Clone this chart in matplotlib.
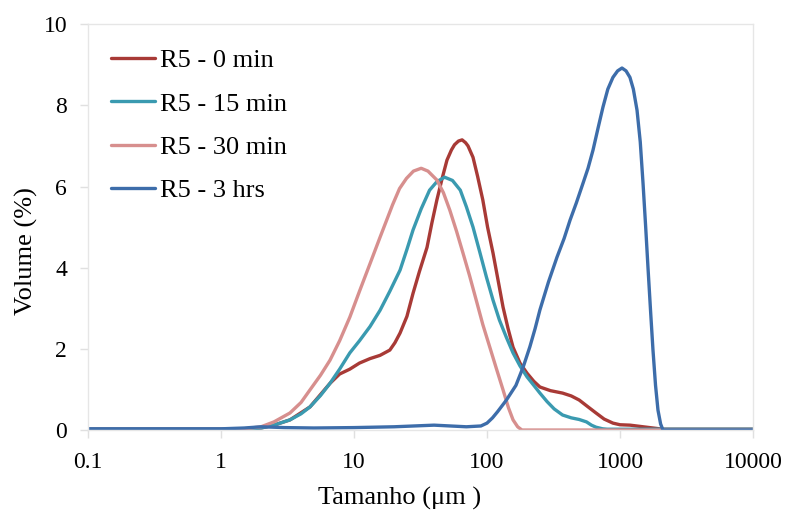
#!/usr/bin/env python3
"""Particle size distribution (volume %) for sample R5 at four times."""
import matplotlib

matplotlib.use("Agg")
import matplotlib.pyplot as plt

plt.rcParams["font.family"] = ["Liberation Serif", "DejaVu Serif"]

# sizes (um) and volume (%), one list pair per series
x_0min = [0.1, 1, 1.5, 2, 2.5, 3.3, 4.67, 6.6, 7.8, 9.3, 11, 13.2, 15.7, 18.6,
          20.3, 22.2, 25, 27.8, 31, 35.4, 38.5, 42, 46, 50, 54, 57, 61, 65, 69,
          72, 78.5, 85, 93, 101, 111, 121, 132, 144, 157, 177, 200, 225, 250,
          300, 370, 430, 493, 570, 660, 760, 885, 1000, 1190, 1580, 2100, 10000]
y_0min = [0.02, 0.02, 0.02, 0.05, 0.12, 0.25, 0.57, 1.15, 1.38, 1.5, 1.65, 1.76,
          1.84, 1.97, 2.15, 2.39, 2.8, 3.37, 3.9, 4.5, 5.1, 5.67, 6.2, 6.65,
          6.9, 7.03, 7.12, 7.15, 7.08, 7.0, 6.72, 6.25, 5.67, 5.0, 4.36, 3.7,
          3.03, 2.5, 2.04, 1.65, 1.4, 1.2, 1.06, 0.97, 0.91, 0.84, 0.74, 0.58,
          0.42, 0.27, 0.17, 0.13, 0.12, 0.07, 0.02, 0.02]

x_15min = [0.1, 1, 1.5, 2, 2.5, 3.3, 4, 4.67, 5.6, 6.6, 7.8, 9.3, 11, 13.2,
           15.7, 18.6, 22.2, 25, 27.8, 32, 37, 42, 48, 55, 63, 70, 78.5, 88,
           99, 111, 124, 140, 157, 177, 200, 225, 250, 283, 320, 370, 430, 493,
           560, 610, 660, 740, 800, 10000]
y_15min = [0.02, 0.02, 0.02, 0.05, 0.12, 0.25, 0.4, 0.57, 0.85, 1.15, 1.5, 1.9,
           2.2, 2.55, 2.95, 3.42, 3.94, 4.45, 4.93, 5.45, 5.91, 6.12, 6.23, 6.15,
           5.91, 5.5, 5.0, 4.4, 3.77, 3.2, 2.71, 2.28, 1.9, 1.58, 1.31, 1.1,
           0.91, 0.7, 0.52, 0.37, 0.3, 0.26, 0.2, 0.12, 0.07, 0.03, 0.02, 0.02]

x_30min = [0.1, 1.3, 1.6, 2, 2.5, 3.3, 4, 4.67, 5.6, 6.6, 7.8, 9.3, 11, 13.2,
           15.7, 17.5, 19.5, 22, 24.8, 28, 32, 36, 42, 47, 52.5, 59, 66, 74,
           83, 93, 105, 118, 132, 145, 157, 170, 183, 10000]
y_30min = [0.02, 0.02, 0.04, 0.08, 0.2, 0.42, 0.68, 0.99, 1.35, 1.72, 2.2, 2.78,
           3.42, 4.1, 4.75, 5.15, 5.55, 5.95, 6.2, 6.38, 6.45, 6.38, 6.16, 5.85,
           5.42, 4.9, 4.36, 3.8, 3.2, 2.6, 2.04, 1.5, 0.99, 0.55, 0.25, 0.08,
           0.0, 0.0]

x_3hrs = [0.1, 1, 1.5, 2, 3, 5, 10, 20, 40, 70, 90, 100, 110, 120, 130, 140,
          152, 165, 187, 210, 230, 250, 290, 336, 380, 421, 470, 527, 575, 627,
          685, 745, 810, 885, 960, 1035, 1110, 1188, 1260, 1343, 1420, 1490,
          1560, 1623, 1700, 1770, 1850, 1930, 2020, 2105, 10000]
y_3hrs = [0.03, 0.03, 0.05, 0.08, 0.06, 0.05, 0.06, 0.08, 0.12, 0.08, 0.1, 0.17,
          0.3, 0.45, 0.6, 0.74, 0.92, 1.1, 1.55, 2.05, 2.5, 2.96, 3.65, 4.26,
          4.72, 5.17, 5.6, 6.08, 6.45, 6.9, 7.45, 7.96, 8.4, 8.69, 8.85, 8.92,
          8.85, 8.69, 8.4, 7.88, 7.1, 6.08, 5.0, 4.01, 2.9, 1.97, 1.1, 0.49,
          0.15, 0.0, 0.0]

SERIES = [
    ("R5 - 0 min", x_0min, y_0min, "#A83A36"),
    ("R5 - 15 min", x_15min, y_15min, "#3A9AB0"),
    ("R5 - 30 min", x_30min, y_30min, "#D78F8E"),
    ("R5 - 3 hrs", x_3hrs, y_3hrs, "#3D6DAA"),
]

fig = plt.figure(figsize=(7.87, 5.15), dpi=100)
ax = fig.add_axes([0.1118, 0.165, 0.845, 0.788])

for label, xs, ys, color in SERIES:
    ax.plot(xs, ys, color=color, lw=2.4, label=label,
            solid_capstyle="round", solid_joinstyle="round")

ax.set_xscale("log")
ax.set_xlim(0.1, 10000)
ax.set_ylim(0, 10)
ax.set_xticks([0.1, 1, 10, 100, 1000, 10000])
ax.set_xticklabels(["0.1", "1", "10", "100", "1000", "10000"])
ax.set_yticks([0, 2, 4, 6, 8, 10])
ax.minorticks_off()

for s in ax.spines.values():
    s.set_color("#E6E6E6")
    s.set_linewidth(1.0)
ax.tick_params(axis="both", length=6, width=1.0, color="#E0E0E0",
               labelsize=17)
ax.tick_params(axis="x", pad=10)
ax.tick_params(axis="y", pad=9)

ax.set_xlabel("Tamanho (\u03bcm )", fontsize=19)
ax.set_ylabel("Volume (%)", fontsize=19)
ax.xaxis.set_label_coords(0.469, -0.14)
ax.yaxis.set_label_coords(-0.075, 0.44)

ax.legend(loc="upper left", frameon=False, fontsize=19, handlelength=1.65,
          handletextpad=0.2, labelspacing=0.75, borderaxespad=0.3,
          bbox_to_anchor=(0.007, 0.985))

fig.savefig("out.png", dpi=100)
